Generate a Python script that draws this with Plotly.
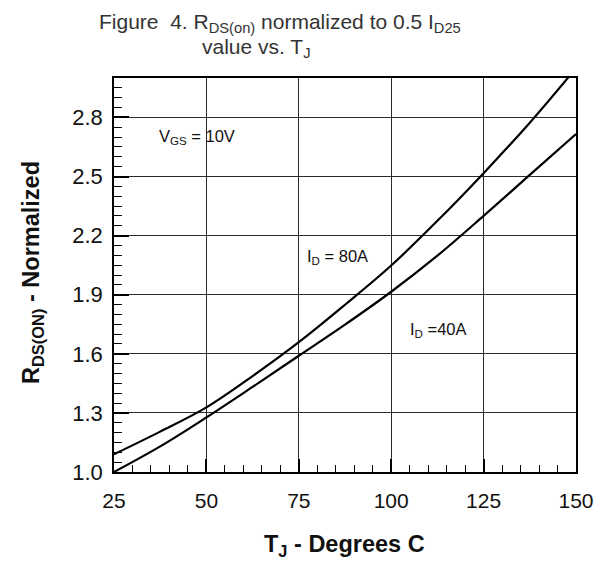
import plotly.graph_objects as go

# Data
tj = [25, 37.5, 50, 62.5, 75, 87.5, 100, 112.5, 125, 137.5, 150]
rds_80a = [1.09, 1.205, 1.328, 1.487, 1.659, 1.849, 2.048, 2.275, 2.517, 2.773, 3.05]
rds_40a = [1.00, 1.13, 1.277, 1.432, 1.59, 1.748, 1.915, 2.098, 2.30, 2.508, 2.716]

x_ticks = [25, 50, 75, 100, 125, 150]
y_ticks = [1.0, 1.3, 1.6, 1.9, 2.2, 2.5, 2.8]
y_tick_text = ["1.0", "1.3", "1.6", "1.9", "2.2", "2.5", "2.8"]

FONT = "Liberation Sans, Arial, sans-serif"
INK = "#111111"
GRID = "#2a2a2a"

# The page body has an 8px margin; compensate so the plot lands where the reference has it.
OFF = 8
W, H = 612 - OFF, 562 - OFF
PLOT_L, PLOT_R, PLOT_T, PLOT_B = 114, 576, 78, 472   # target plot box in screenshot pixels
L, T = PLOT_L - OFF, PLOT_T - OFF
R, B = W + OFF - PLOT_R, H + OFF - PLOT_B
PW, PH = W - L - R, H - T - B


def px_x(px):  # screenshot x pixel -> paper coordinate
    return (px - PLOT_L) / PW


def px_y(py):  # screenshot y pixel -> paper coordinate
    return (PLOT_B - py) / PH


fig = go.Figure()
for ys in (rds_80a, rds_40a):
    fig.add_trace(go.Scatter(x=tj, y=ys, mode="lines",
                             line=dict(color="black", width=2.2, shape="spline", smoothing=1.0),
                             showlegend=False, hoverinfo="skip", cliponaxis=True))

fig.update_layout(
    width=W, height=H, autosize=False,
    margin=dict(l=L, r=R, t=T, b=B, pad=0),
    paper_bgcolor="white", plot_bgcolor="white",
    font=dict(family=FONT, color=INK, size=20),
    xaxis=dict(range=[25, 150], tickvals=x_ticks, ticktext=[str(v) for v in x_ticks],
               automargin=False,
               showgrid=True, gridcolor=GRID, gridwidth=1, zeroline=False,
               showline=True, linecolor="black", linewidth=1.5, mirror=True,
               ticks="inside", ticklen=13, tickwidth=1.5, tickcolor="black",
               ticklabelstandoff=9,
               minor=dict(dtick=5, tick0=25, ticks="inside", ticklen=7, tickwidth=1.2,
                          tickcolor="black", showgrid=False),
               tickfont=dict(size=21, color=INK)),
    yaxis=dict(range=[1.0, 3.0], tickvals=y_ticks, ticktext=y_tick_text,
               automargin=False,
               showgrid=True, gridcolor=GRID, gridwidth=1, zeroline=False,
               showline=True, linecolor="black", linewidth=1.5, mirror=True,
               ticks="inside", ticklen=15, tickwidth=1.5, tickcolor="black",
               ticklabelstandoff=5,
               minor=dict(dtick=0.05, tick0=1.0, ticks="inside", ticklen=8, tickwidth=1.2,
                          tickcolor="black", showgrid=False),
               tickfont=dict(size=22, color=INK)),
    xaxis2=dict(overlaying="x", anchor="y", side="top", range=[25, 150], tickvals=x_ticks,
                automargin=False,
                showticklabels=False, showgrid=False, zeroline=False, showline=False,
                ticks="inside", ticklen=15, tickwidth=1.5, tickcolor="black"),
    yaxis2=dict(overlaying="y", anchor="x", side="right", range=[1.0, 3.0], tickvals=y_ticks,
                automargin=False,
                showticklabels=False, showgrid=False, zeroline=False, showline=False,
                ticks="inside", ticklen=15, tickwidth=1.5, tickcolor="black"),
)

# Axis titles
axis_title_font = dict(family=FONT, size=23.5, color=INK)
fig.add_annotation(text="<b>T<sub>J</sub> - Degrees C</b>", xref="paper", yref="paper",
                   x=px_x(344), y=px_y(545),
                   xanchor="center", yanchor="middle", showarrow=False, font=axis_title_font)
fig.add_annotation(text="<b>R<sub>DS(ON)</sub> - Normalized</b>", xref="paper", yref="paper",
                   x=px_x(32), y=px_y(273), textangle=-90,
                   xanchor="center", yanchor="middle", showarrow=False, font=axis_title_font)

# Figure title (two lines)
title_font = dict(family=FONT, size=21, color="#333333")
fig.add_annotation(text="Figure  4. R<sub>DS(on)</sub> normalized to 0.5 I<sub>D25</sub>",
                   xref="paper", yref="paper", x=px_x(280), y=px_y(23),
                   xanchor="center", yanchor="middle", showarrow=False, font=title_font)
fig.add_annotation(text="value vs. T<sub>J</sub>",
                   xref="paper", yref="paper", x=px_x(256), y=px_y(48),
                   xanchor="center", yanchor="middle", showarrow=False, font=title_font)

label_font = dict(family=FONT, size=16.5, color=INK)
fig.add_annotation(text="V<sub>GS</sub> = 10V", x=47.5, y=2.70, showarrow=False,
                   xanchor="center", yanchor="middle", font=label_font)
fig.add_annotation(text="I<sub>D</sub> = 80A", x=85.6, y=2.09, showarrow=False,
                   xanchor="center", yanchor="middle", font=label_font)
fig.add_annotation(text="I<sub>D</sub> =40A", x=112.8, y=1.72, showarrow=False,
                   xanchor="center", yanchor="middle", font=label_font)

fig.write_html("out.html")
